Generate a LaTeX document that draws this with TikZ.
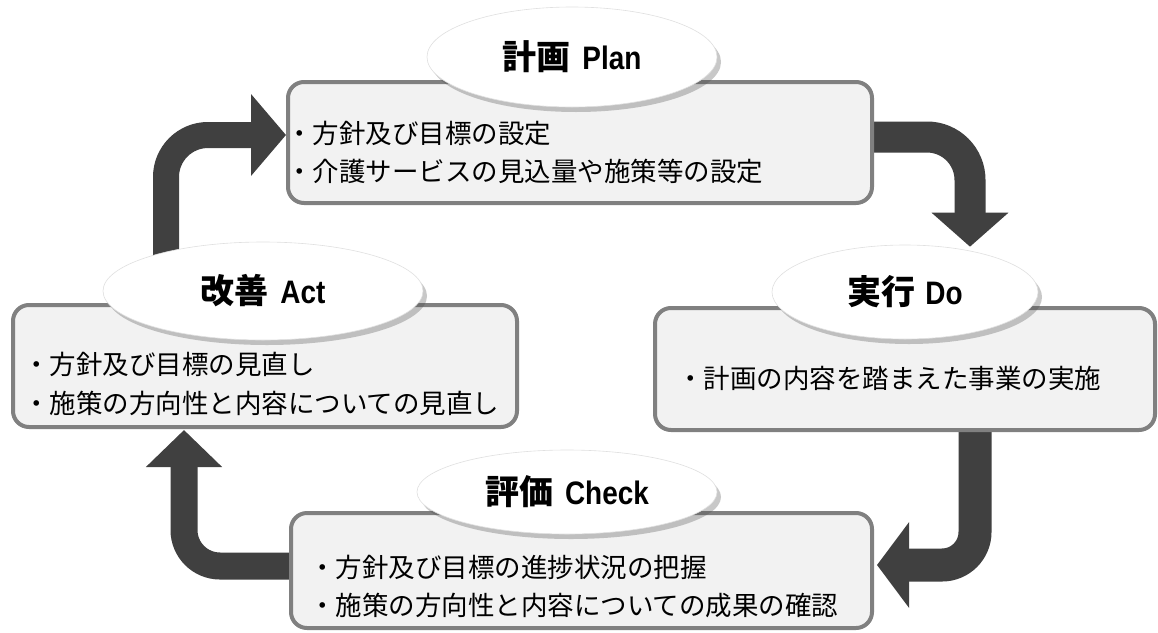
\documentclass[tikz,border=0pt]{standalone}
\usepackage{fontspec}
\newfontfamily\cjk{Noto Sans CJK JP}
\newfontfamily\lat[FakeStretch=0.86]{Liberation Sans}
\usetikzlibrary{arrows.meta,shadows,shapes.geometric}
\pgfdeclarelayer{bg}
\pgfsetlayers{bg,main}
\definecolor{arrowc}{HTML}{404040}
\definecolor{boxfill}{HTML}{F2F2F2}
\definecolor{boxline}{HTML}{808080}
\tikzset{
  pbox/.style={draw=boxline, line width=4pt, fill=boxfill, rounded corners=16pt, inner sep=0pt},
  ell/.style={ellipse, fill=white, draw=black!12, line width=0.6pt, inner sep=0pt,
    drop shadow={shadow xshift=4pt, shadow yshift=-5pt, opacity=0.3, fill=black!70}},
  body/.style={font=\cjk\fontsize{26.5}{38.5}\selectfont, align=left, anchor=west, inner sep=0pt},
  ttl/.style={font=\cjk\bfseries\fontsize{34}{40}\selectfont, inner sep=0pt},
  flow/.style={draw=arrowc, line width=#1},
}
\newcommand{\latw}[1]{{\lat\bfseries\fontsize{32.5}{36}\selectfont #1}}
\begin{document}
\begin{tikzpicture}[x=1pt,y=-1pt]
\useasboundingbox (0,0) rectangle (1158,632);
% boxes
\node[pbox, minimum width=584pt, minimum height=121pt] (plan) at (580,142.5) {};
\node[pbox, minimum width=500pt, minimum height=122pt] (do) at (905,369) {};
\node[pbox, minimum width=581pt, minimum height=115pt] (check) at (581.5,570.5) {};
\node[pbox, minimum width=504pt, minimum height=122pt] (act) at (265,366) {};
% body texts
\node[body] (planT) at (286,152.5) {・方針及び目標の設定\\・介護サービスの見込量や施策等の設定};
\node[body] (doT) at (677,378) {・計画の内容を踏まえた事業の実施};
\node[body] (checkT) at (309,586.5) {・方針及び目標の進捗状況の把握\\・施策の方向性と内容についての成果の確認};
\node[body] (actT) at (23,384) {・方針及び目標の見直し\\・施策の方向性と内容についての見直し};
% ellipses
\node[ell, minimum width=290pt, minimum height=100pt] (planE) at (572,57) {};
\node[ell, minimum width=266pt, minimum height=94pt] (doE) at (905,292) {};
\node[ell, minimum width=300pt, minimum height=84pt] (checkE) at (567,492) {};
\node[ell, minimum width=320pt, minimum height=98pt] (actE) at (263,291) {};
% titles
\node[ttl] (planL) at (planE) {計画\hspace{12pt}\latw{Plan}};
\node[ttl] (doL) at (doE) {実行\hspace{10pt}\latw{Do}};
\node[ttl] (checkL) at (checkE) {評価\hspace{12pt}\latw{Check}};
\node[ttl] (actL) at (actE) {改善\hspace{12pt}\latw{Act}};
% arrows
\begin{pgfonlayer}{bg}
\fill[white] (0,0) rectangle (1158,632);
\draw[flow=26pt, rounded corners=42pt, -{Triangle[width=80pt,length=35pt]}]
  ([xshift=-97pt,yshift=-40pt]actE.north) |- ([yshift=7.5pt]plan.west);
\draw[flow=31pt, rounded corners=43pt, -{Triangle[width=75pt,length=34pt]}]
  ([xshift=-20pt,yshift=5.5pt]plan.east) -| ([xshift=65pt,yshift=-2pt]doE.north);
\draw[flow=33pt, rounded corners=33pt, -{Triangle[width=84pt,length=32pt]}]
  ([xshift=70pt,yshift=20pt]do.south) |- ([xshift=3pt,yshift=5.5pt]check.east);
\draw[flow=27pt, rounded corners=36pt, -{Triangle[width=74pt,length=37pt]}]
  ([xshift=20pt,yshift=4.5pt]check.west) -| ([xshift=-81pt,yshift=-1pt]act.south);
\end{pgfonlayer}
\end{tikzpicture}
\end{document}
